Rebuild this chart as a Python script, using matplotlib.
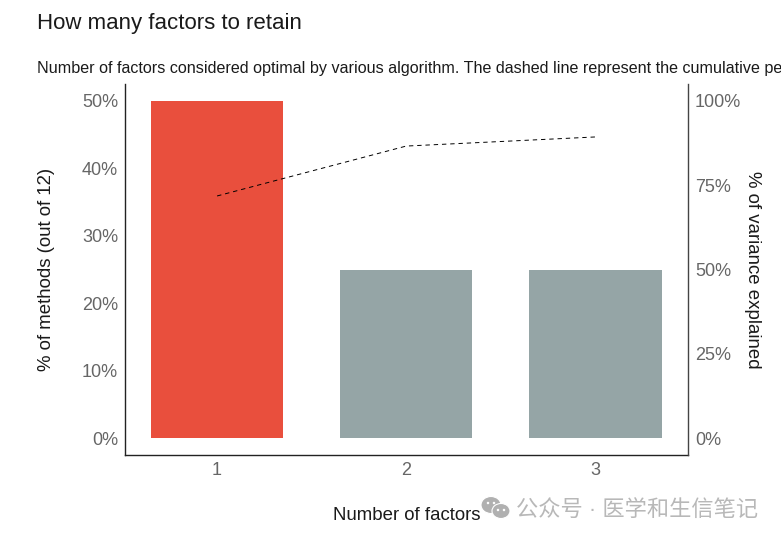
import matplotlib
matplotlib.use("Agg")
import matplotlib.pyplot as plt
from matplotlib.patches import Ellipse

plt.rcParams['font.family'] = ['Liberation Sans', 'Noto Sans CJK SC', 'DejaVu Sans']

factors = [1, 2, 3]
pct_methods = [50, 25, 25]
pct_variance = [71.8, 86.6, 89.3]
bar_colors = ['#E94F3D', '#95A5A6', '#95A5A6']
left_ticks = [0, 10, 20, 30, 40, 50]
right_ticks = [0, 25, 50, 75, 100]

W, H = 781, 539
fig = plt.figure(figsize=(W / 100, H / 100), dpi=100)
L, R, T, B = 125, 688, 84, 455
ax = fig.add_axes([L / W, 1 - B / H, (R - L) / W, (B - T) / H])
ax.bar(factors, pct_methods, width=0.7, color=bar_colors, zorder=2)
ax.set_xlim(0.513, 3.49)
ax.set_ylim(-2.5, 52.5)
ax.set_xticks(factors)
ax.set_yticks(left_ticks)
ax.set_yticklabels([f'{v}%' for v in left_ticks])
ax.tick_params(length=0, labelsize=13, labelcolor='#666666', pad=5)
ax.tick_params(axis='x', pad=5)
for s in ['top', 'right']:
    ax.spines[s].set_visible(False)
for s in ['left', 'bottom']:
    ax.spines[s].set_linewidth(1.0)
    ax.spines[s].set_color('#222222')

ax2 = ax.twinx()
ax2.set_ylim(-5, 105)
ax2.plot(factors, pct_variance, color='black', lw=0.7, ls=(0, (4.5, 4)), zorder=3)
ax2.set_yticks(right_ticks)
ax2.set_yticklabels([f'{v}%' for v in right_ticks])
ax2.tick_params(length=0, labelsize=13, labelcolor='#666666', pad=5)
for s in ['top', 'left', 'bottom']:
    ax2.spines[s].set_visible(False)
ax2.spines['right'].set_linewidth(1.0)
ax2.spines['right'].set_color('#444444')

def px(x, y):
    return x / W, 1 - y / H

fig.text(*px(37, 23), 'How many factors to retain', fontsize=16, color='#1a1a1a', ha='left', va='center')
fig.text(*px(37, 68), 'Number of factors considered optimal by various algorithm. The dashed line represent the cumulative percentage of variance explained',
         fontsize=11.65, color='#1a1a1a', ha='left', va='center')
fig.text(*px(47, 269), '% of methods (out of 12)', fontsize=13.4, rotation=90, color='#1a1a1a', ha='center', va='center')
fig.text(*px(753, 269.5), '% of variance explained', fontsize=13.4, rotation=-90, color='#1a1a1a', ha='center', va='center')
fig.text(*px(407, 515), 'Number of factors', fontsize=13.4, color='#1a1a1a', ha='center', va='center')
fig.text(*px(516, 510), '公众号 · 医学和生信笔记', fontsize=16, color='#b8b8b8', ha='left', va='center')

for (cx, cy, w, h) in [(491, 505, 20, 17), (501, 511, 18, 15)]:
    fig.add_artist(Ellipse(px(cx, cy), w / W, h / H, transform=fig.transFigure,
                           facecolor='#b0b0b0', edgecolor='white', lw=0.8))
for (cx, cy) in [(488, 503), (494, 503), (498, 510), (504, 510)]:
    fig.add_artist(Ellipse(px(cx, cy), 2.5 / W, 2.5 / H, transform=fig.transFigure,
                           facecolor='white', edgecolor='none'))
fig.savefig('out.png', dpi=100)
